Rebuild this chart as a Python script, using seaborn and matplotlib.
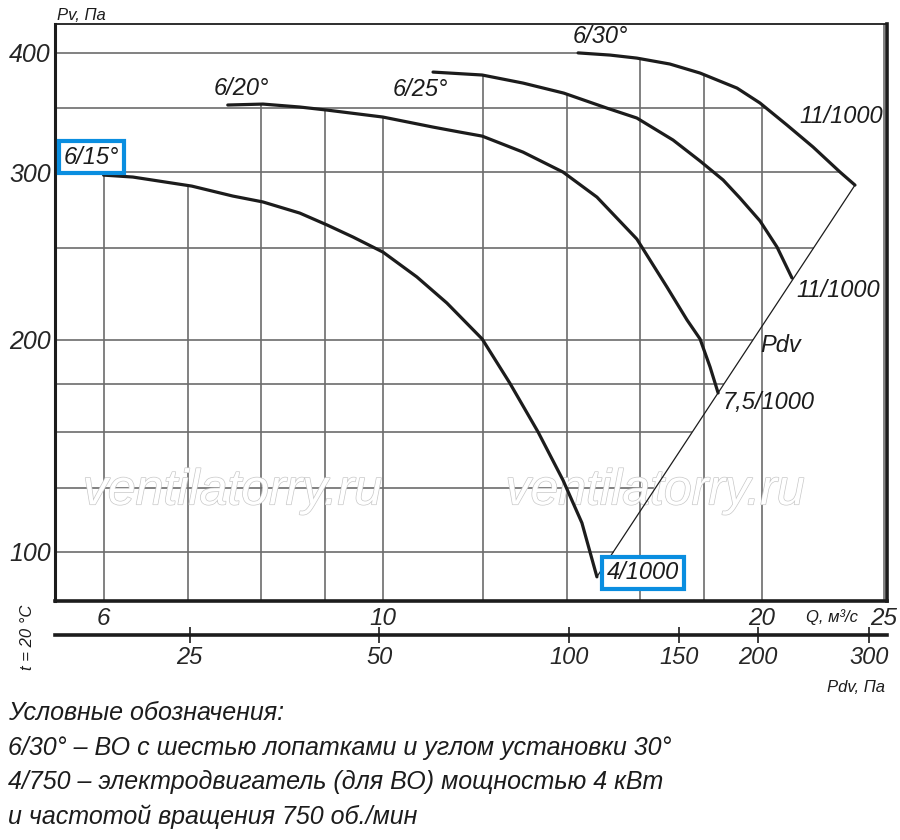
"""
Fan performance chart: Pv vs Q for blade angles 15-30 deg, log-log axes
"""

import matplotlib
matplotlib.use('Agg')
import matplotlib.pyplot as plt
import matplotlib.patheffects as pe
from matplotlib import font_manager
from matplotlib.ticker import NullLocator, FixedLocator, FixedFormatter
import numpy as np
import pandas as pd
import seaborn as sns

# Curves: Q in m3/s, Pv in Pa
q_15 = [6.0, 6.33, 7.05, 7.60, 8.03, 8.59, 9.03, 9.47, 10.0, 10.64, 11.24, 11.99,
        12.61, 13.28, 13.90, 14.39, 14.79]
pv_15 = [297.8, 296.4, 290.0, 283.1, 279.1, 271.7, 264.0, 256.4, 247.3, 232.9, 218.7, 200.5,
         180.3, 160.2, 142.6, 128.6, 112.9]

q_20 = [7.53, 8.03, 8.59, 9.03, 10.0, 10.96, 11.51, 11.99, 12.92, 13.90, 14.79, 15.91,
        16.81, 17.44, 17.86, 18.19, 18.46]
pv_20 = [352.7, 353.5, 351.0, 348.4, 342.6, 334.4, 330.4, 327.2, 314.8, 300.0, 282.4, 255.2,
         227.3, 209.9, 200.5, 187.4, 176.0]

q_25 = [10.96, 11.99, 12.92, 13.92, 15.06, 15.91, 17.00, 17.86, 18.63, 19.21, 19.93, 20.56, 21.13]
pv_25 = [381.9, 379.2, 371.9, 363.0, 350.1, 341.8, 324.1, 308.1, 294.3, 281.8, 266.6, 250.3, 232.3]

q_30 = [14.29, 15.15, 15.91, 16.90, 17.86, 19.11, 19.93, 20.94, 21.96, 23.07, 23.71]
pv_30 = [400.0, 397.9, 395.0, 389.4, 381.0, 367.4, 354.4, 336.0, 318.7, 300.0, 290.7]

# grid and tick values
q_grid = [6, 7, 8, 9, 10, 12, 14, 16, 18, 20, 25]
pv_grid = [120, 140, 160, 180, 200, 250, 300, 350, 400]
q_ticks = [6, 10, 20, 25]
pv_ticks = [120, 200, 300, 400]
pv_tick_labels = ['100', '200', '300', '400']
pdv_ticks = [25, 50, 100, 150, 200, 300]
PDV_COEF = 0.507

Q_LIM = (5.49, 25.14)
PV_LIM = (106.5, 428.9)

curves = [(q_15, pv_15), (q_20, pv_20), (q_25, pv_25), (q_30, pv_30)]
# Pdv line joins the curve ends
pdv_line = ([q_15[-1], q_30[-1]], [pv_15[-1], pv_30[-1]])

LINE = '#1c1c1c'
GRID = '#6c6c6c'
BLUE = '#0a8ee0'

sns.set_style('white')
names = {f.name for f in font_manager.fontManager.ttflist}
FONT = 'Liberation Sans' if 'Liberation Sans' in names else 'DejaVu Sans'
plt.rcParams['font.family'] = [FONT, 'DejaVu Sans']
plt.rcParams['font.style'] = 'italic'
plt.rcParams['text.color'] = LINE


def curve_top(q):
    best = None
    for qs, ps in curves:
        if qs[0] <= q <= qs[-1]:
            v = 10 ** np.interp(np.log10(q), np.log10(qs), np.log10(ps))
            best = v if best is None else max(best, v)
    return best


def right_edge(p):
    best = None
    lp0 = np.log10(p)
    for qs, ps in curves + [pdv_line]:
        lq, lp = np.log10(qs), np.log10(ps)
        for i in range(len(qs) - 1):
            lo, hi = sorted((lp[i], lp[i + 1]))
            if lo <= lp0 <= hi and hi > lo:
                t = (lp0 - lp[i]) / (lp[i + 1] - lp[i])
                qq = 10 ** (lq[i] + t * (lq[i + 1] - lq[i]))
                best = qq if best is None else max(best, qq)
    return best


fig = plt.figure(figsize=(9, 8.4), dpi=100)
ax = fig.add_axes([55 / 900, 1 - 601 / 840, 832 / 900, 577 / 840])
ax.set_xscale('log')
ax.set_yscale('log')
ax.set_xlim(*Q_LIM)
ax.set_ylim(*PV_LIM)

# grid clipped by the curve envelope
for q in q_grid:
    top = curve_top(q)
    ax.vlines(q, PV_LIM[0], top if top else PV_LIM[1], color=GRID, lw=1.2, zorder=1)
for p in pv_grid:
    right = right_edge(p)
    ax.hlines(p, Q_LIM[0], right if right else Q_LIM[1], color=GRID, lw=1.2, zorder=1)

# watermark
for xc in (0.213, 0.721):
    ax.text(xc, 0.19, 'ventilatorry.ru', transform=ax.transAxes, fontsize=36,
            color='white', ha='center', va='center', zorder=2,
            path_effects=[pe.withStroke(linewidth=1.0, foreground='#c8c8c8')])

for qs, ps in curves:
    df = pd.DataFrame({'Q': qs, 'Pv': ps})
    sns.lineplot(data=df, x='Q', y='Pv', sort=False, color=LINE, lw=2.3,
                 ax=ax, zorder=3)
sns.lineplot(x=pdv_line[0], y=pdv_line[1], color=LINE, lw=0.9, ax=ax, zorder=3)

# curve labels
lab = dict(fontsize=17, textcoords='offset pixels', ha='center', va='center', zorder=5)
box = dict(boxstyle='square,pad=0.2', fc='white', ec=BLUE, lw=3.0)
ax.annotate('6/15°', (q_15[0], pv_15[0]), xytext=(-12, 18), bbox=box, **lab)
ax.annotate('6/20°', (q_20[0], pv_20[0]), xytext=(14, 17), **lab)
ax.annotate('6/25°', (q_25[0], pv_25[0]), xytext=(-13, -17), **lab)
ax.annotate('6/30°', (q_30[0], pv_30[0]), xytext=(22, 16), **lab)
ax.annotate('11/1000', (q_30[-1], pv_30[-1]), xytext=(-14, 69), **lab)
ax.annotate('11/1000', (q_25[-1], pv_25[-1]), xytext=(46, -13), **lab)
ax.annotate('Pdv', (q_20[-1], pv_20[-1]), xytext=(63, 47), **lab)
ax.annotate('7,5/1000', (q_20[-1], pv_20[-1]), xytext=(50, -10), **lab)
ax.annotate('4/1000', (q_15[-1], pv_15[-1]), xytext=(46, 4), bbox=box, **lab)

# axes and ticks
ax.xaxis.set_major_locator(FixedLocator(q_ticks))
ax.xaxis.set_major_formatter(FixedFormatter([str(v) for v in q_ticks]))
ax.xaxis.set_minor_locator(NullLocator())
ax.yaxis.set_major_locator(FixedLocator(pv_ticks))
ax.yaxis.set_major_formatter(FixedFormatter(pv_tick_labels))
ax.yaxis.set_minor_locator(NullLocator())
ax.tick_params(axis='x', length=0, pad=4, labelsize=17.5)
ax.tick_params(axis='y', length=0, pad=3, labelsize=18)
ax.set_xlabel('')
ax.set_ylabel('')
for side, lw in [('left', 2.2), ('bottom', 2.6), ('right', 2.6), ('top', 1.3)]:
    ax.spines[side].set_linewidth(lw)
    ax.spines[side].set_color(LINE)
    ax.spines[side].set_visible(True)

sec = ax.secondary_xaxis(-0.0589, functions=(lambda q: PDV_COEF * np.asarray(q) ** 2,
                                             lambda p: np.sqrt(np.abs(p) / PDV_COEF)))
sec.xaxis.set_major_locator(FixedLocator(pdv_ticks))
sec.xaxis.set_major_formatter(FixedFormatter([str(v) for v in pdv_ticks]))
sec.xaxis.set_minor_locator(NullLocator())
sec.tick_params(axis='x', direction='inout', length=12, width=1.2, pad=2,
                labelsize=17, color=LINE)
sec.spines['bottom'].set_linewidth(2.6)
sec.spines['bottom'].set_color(LINE)

# free texts
fig.text(81 / 900, 1 - 15 / 840, 'Pv, Па', fontsize=12, ha='center', va='center')
fig.text(832 / 900, 1 - 617 / 840, 'Q, м³/с', fontsize=12, ha='center', va='center')
fig.text(856 / 900, 1 - 688 / 840, 'Pdv, Па', fontsize=12, ha='center', va='center')
fig.text(27 / 900, 1 - 637 / 840, 't = 20 °C', fontsize=12, rotation=90,
         ha='center', va='center')

notes = [
    'Условные обозначения:',
    '6/30° – ВО с шестью лопатками и углом установки 30°',
    '4/750 – электродвигатель (для ВО) мощностью 4 кВт',
    'и частотой вращения 750 об./мин',
]
for i, line in enumerate(notes):
    fig.text(8 / 900, 1 - (713 + 34.7 * i) / 840, line, fontsize=18,
             ha='left', va='center')

fig.savefig('out.png', dpi=100)
plt.close(fig)
